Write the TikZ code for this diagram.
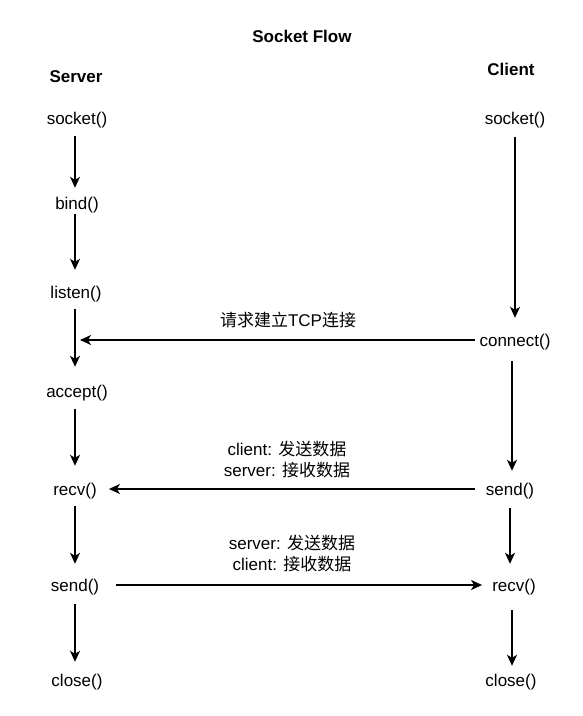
\documentclass[tikz,border=0pt]{standalone}
\usepackage{fontspec}
\setmainfont{Liberation Sans}
\newfontfamily\cjk{Noto Sans CJK SC}
\usetikzlibrary{arrows.meta}
\begin{document}
\begin{tikzpicture}[x=1pt,y=-1pt,
  lbl/.style={inner sep=0pt, text height=14pt, text depth=2pt, font=\fontsize{17}{21}\selectfont},
  ttl/.style={lbl, font=\fontsize{17}{21}\selectfont\bfseries},
  msg/.style={align=center, inner sep=0pt, font=\fontsize{17}{21}\selectfont},
  flow/.style={line width=1.5pt, -{Stealth[length=11pt,width=10pt,inset=3pt]}}]
\useasboundingbox (0,0) rectangle (583,716);
% titles
\node[ttl] (title) at (302,36) {Socket Flow};
\node[ttl] (server) at (76,76) {Server};
\node[ttl] (client) at (511,69) {Client};
% server column
\node[lbl] (sockL) at (77,118) {socket()};
\node[lbl] (bindL) at (77,203) {bind()};
\node[lbl] (listenL) at (76,292) {listen()};
\node[lbl] (acceptL) at (77,391) {accept()};
\node[lbl] (recvL) at (75,489) {recv()};
\node[lbl] (sendL) at (75,585) {send()};
\node[lbl] (closeL) at (77,680) {close()};
% client column
\node[lbl] (sockR) at (515,118) {socket()};
\node[lbl] (connectR) at (515,340) {connect()};
\node[lbl] (sendR) at (510,489) {send()};
\node[lbl] (recvR) at (514,585) {recv()};
\node[lbl] (closeR) at (511,680) {close()};
% server arrows
\draw[flow, shorten <=10pt, shorten >=7pt] (sockL.south -| 75,0) -- (bindL.north -| 75,0);
\draw[flow, shorten <=3pt, shorten >=14pt] (bindL.south -| 75,0) -- (listenL.north -| 75,0);
\draw[flow, shorten <=9pt, shorten >=16pt] (listenL.south -| 75,0) -- (acceptL.north -| 75,0);
\draw[flow, shorten <=10pt, shorten >=15pt] (acceptL.south -| 75,0) -- (recvL.north -| 75,0);
\draw[flow, shorten <=9pt, shorten >=13pt] (recvL.south -| 75,0) -- (sendL.north -| 75,0);
\draw[flow, shorten <=11pt, shorten >=10pt] (sendL.south -| 75,0) -- (closeL.north -| 75,0);
% client arrows
\draw[flow, shorten <=11pt, shorten >=14pt] (sockR.south -| 515,0) -- (connectR.north -| 515,0);
\draw[flow, shorten <=13pt, shorten >=10pt] (connectR.south -| 512,0) -- (sendR.north -| 512,0);
\draw[flow, shorten <=11pt, shorten >=13pt] (sendR.south -| 510,0) -- (recvR.north -| 510,0);
\draw[flow, shorten <=17pt, shorten >=6pt] (recvR.south -| 512,0) -- (closeR.north -| 512,0);
% messages
\coordinate (m1) at (80,340);
\draw[flow, shorten <=4pt] (connectR.west) -- (m1);
\node[msg] (req) at (288,319.5) {{\cjk 请求建立}TCP{\cjk 连接}};
\draw[flow, shorten <=11pt, shorten >=12pt] (sendR.west) -- (recvL.east);
\node[msg] (msg1) at (287,460) {client: {\cjk 发送数据}\\server: {\cjk 接收数据}};
\draw[flow, shorten <=17pt, shorten >=10pt] (sendL.east) -- (recvR.west);
\node[msg] (msg2) at (292,554) {server: {\cjk 发送数据}\\client: {\cjk 接收数据}};
\end{tikzpicture}
\end{document}
